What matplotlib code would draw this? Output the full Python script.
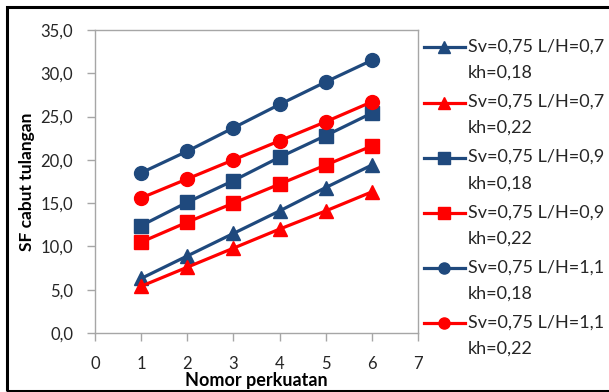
import matplotlib
matplotlib.use("Agg")
import matplotlib.pyplot as plt
from matplotlib.patches import Rectangle
from matplotlib.ticker import FuncFormatter
from matplotlib.lines import Line2D
from matplotlib.legend_handler import HandlerLine2D

plt.rcParams["font.family"] = ["Lato", "DejaVu Sans"]

NAVY = "#1F497D"
RED = "#FF0000"

nomor = [1, 2, 3, 4, 5, 6]

# SF per series (Sv=0,75)
sf_lh07_kh018 = [6.3, 8.9, 11.5, 14.1, 16.8, 19.4]
sf_lh07_kh022 = [5.4, 7.6, 9.8, 12.0, 14.1, 16.3]
sf_lh09_kh018 = [12.4, 15.1, 17.6, 20.3, 22.8, 25.4]
sf_lh09_kh022 = [10.5, 12.8, 15.0, 17.2, 19.4, 21.6]
sf_lh11_kh018 = [18.5, 21.0, 23.7, 26.4, 29.0, 31.5]
sf_lh11_kh022 = [15.6, 17.8, 20.0, 22.2, 24.4, 26.7]

series = [
    (sf_lh07_kh018, NAVY, "^", "Sv=0,75 L/H=0,7\nkh=0,18"),
    (sf_lh07_kh022, RED, "^", "Sv=0,75 L/H=0,7\nkh=0,22"),
    (sf_lh09_kh018, NAVY, "s", "Sv=0,75 L/H=0,9\nkh=0,18"),
    (sf_lh09_kh022, RED, "s", "Sv=0,75 L/H=0,9\nkh=0,22"),
    (sf_lh11_kh018, NAVY, "o", "Sv=0,75 L/H=1,1\nkh=0,18"),
    (sf_lh11_kh022, RED, "o", "Sv=0,75 L/H=1,1\nkh=0,22"),
]


class FirstLineHandler(HandlerLine2D):
    """Put the legend sample level with the first line of a two-line label."""

    def create_artists(self, legend, orig_handle, xdescent, ydescent,
                       width, height, fontsize, trans):
        return super().create_artists(legend, orig_handle, xdescent, ydescent - 18,
                                      width, height, fontsize, trans)


fig = plt.figure(figsize=(6.09, 3.92), dpi=100)
ax = fig.add_axes([95 / 609, 59 / 392, 323 / 609, 303 / 392])

for vals, color, mk, label in series:
    ax.plot(nomor, vals, color=color, marker=mk, markersize=10, linewidth=2.3,
            label=label, clip_on=False)

ax.set_xlim(0, 7)
ax.set_ylim(0, 35)
ax.set_xticks(range(0, 8))
ax.set_yticks(range(0, 36, 5))
ax.yaxis.set_major_formatter(FuncFormatter(lambda v, p: f"{v:.1f}".replace(".", ",")))

for sp in ax.spines.values():
    sp.set_color("#A6A6A6")
    sp.set_linewidth(1.0)
ax.tick_params(direction="out", length=5.8, width=1.0, color="#A6A6A6",
               labelsize=12, labelcolor="#262626", pad=10)
ax.tick_params(axis="x", pad=11)

ax.set_xlabel("Nomor perkuatan", fontsize=13, fontweight="bold", labelpad=0)
ax.set_ylabel("SF cabut tulangan", fontsize=12.5, fontweight="bold", labelpad=4)

leg = ax.legend(loc="upper left", bbox_to_anchor=(0.995, 0.995), frameon=False,
                fontsize=13, handlelength=2.3, handletextpad=0.15,
                labelspacing=0.72, borderaxespad=0.0, markerscale=0.8,
                handler_map={Line2D: FirstLineHandler()})
for t in leg.get_texts():
    t.set_color("#262626")
    t.set_linespacing(1.78)

# black outer frame
fig.add_artist(Rectangle((7 / 609, 1.5 / 392), 1.05, 383.5 / 392, transform=fig.transFigure,
                         fill=False, edgecolor="black", linewidth=2.2, clip_on=False))

fig.savefig("out.png", dpi=100)
